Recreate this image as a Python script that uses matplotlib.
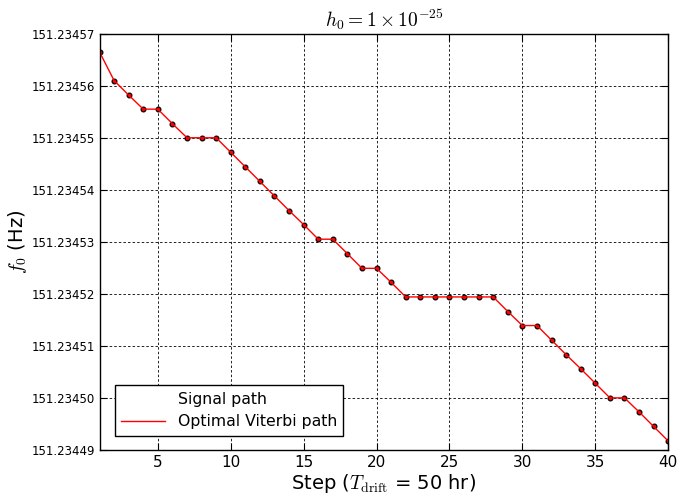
import matplotlib
matplotlib.use("Agg")
import matplotlib.pyplot as plt
from matplotlib.lines import Line2D

plt.rcParams['mathtext.fontset'] = 'cm'
plt.rcParams['font.family'] = 'DejaVu Sans'

# Viterbi tracking result, 40 steps (frequency in Hz)
steps = list(range(1, 41))
f0_base = 151.234
f0_offset_1e5 = [
    56.65, 56.10, 55.82, 55.55, 55.55, 55.27, 55.00, 55.00, 55.00, 54.72,
    54.44, 54.16, 53.88, 53.60, 53.33, 53.05, 53.05, 52.77, 52.49, 52.49,
    52.22, 51.94, 51.94, 51.94, 51.94, 51.94, 51.94, 51.94, 51.66, 51.39,
    51.39, 51.11, 50.83, 50.56, 50.28, 50.00, 50.00, 49.73, 49.45, 49.17,
]
f0 = [f0_base + v * 1e-5 for v in f0_offset_1e5]
yticks = [151.23449 + i * 1e-5 for i in range(9)]
ytick_labels = ['%.5f' % t for t in yticks]
xticks = [5, 10, 15, 20, 25, 30, 35, 40]

fig = plt.figure(figsize=(6.77, 4.96), dpi=100)
ax = fig.add_axes([0.147, 0.093, 0.840, 0.839])

# signal path markers and the recovered path drawn on top
ax.plot(steps, f0, ls='none', marker='o', ms=3.4, mfc='r', mec='k', mew=0.9)
ax.plot(steps, f0, color='r', lw=1.0)

ax.set_xlim(1, 40)
ax.set_ylim(yticks[0], yticks[-1])
ax.set_xticks(xticks)
ax.set_yticks(yticks)
ax.set_yticklabels(ytick_labels)
ax.tick_params(axis='x', labelsize=11, direction='in', top=True, length=5, pad=4)
ax.tick_params(axis='y', labelsize=8.5, direction='in', right=True, length=5, pad=3)
ax.grid(True, color='k', lw=0.6, linestyle=(0, (3, 2.5)))
for s in ax.spines.values():
    s.set_linewidth(1.0)

ax.set_title(r'$h_0 = 1 \times 10^{-25}$', fontsize=14, pad=5)
ax.set_xlabel(r'Step ($T_\mathrm{drift}$ = 50 hr)', fontsize=14, labelpad=1)
ax.set_ylabel(r'$f_0$ (Hz)', fontsize=14, labelpad=2)

handles = [Line2D([], [], color='none'), Line2D([], [], color='r', lw=1.0)]
ax.legend(handles, ['Signal path', 'Optimal Viterbi path'], loc='lower left',
          bbox_to_anchor=(0.027, 0.034), borderaxespad=0, fontsize=11.3,
          fancybox=False, edgecolor='k', framealpha=1, handlelength=2.8)
leg = ax.get_legend()
leg.get_frame().set_linewidth(1.0)

fig.savefig('out.png', dpi=100)
